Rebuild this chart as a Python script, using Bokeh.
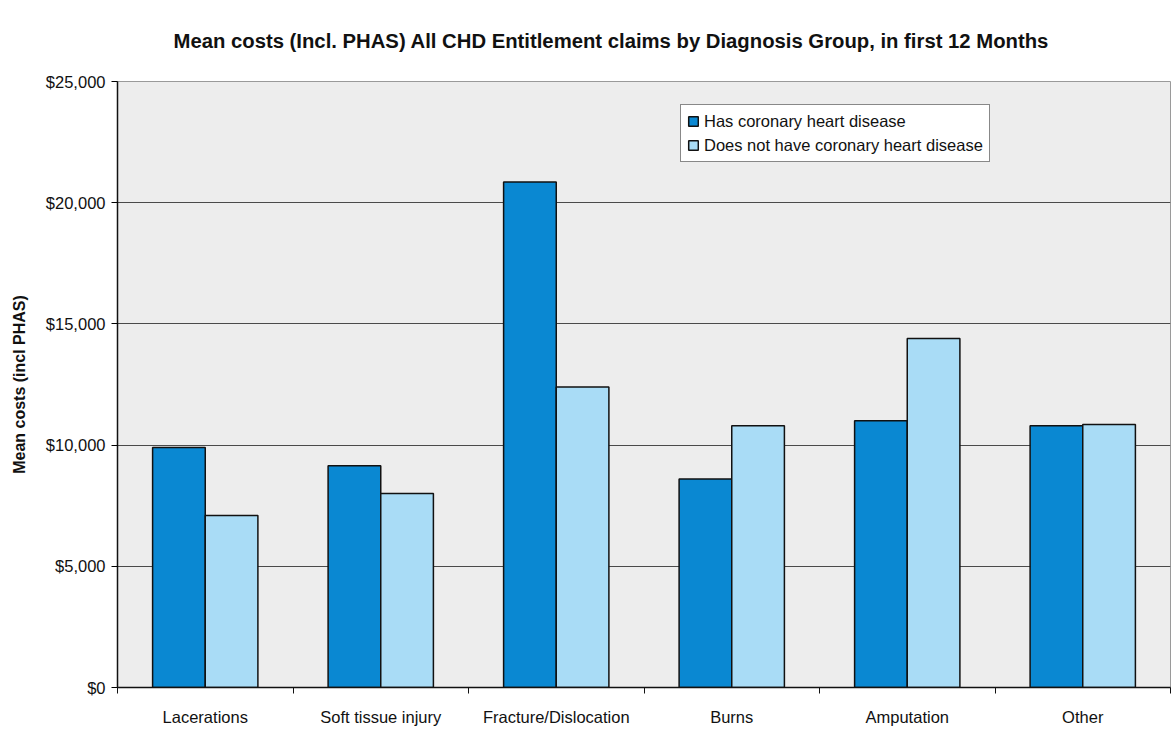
from bokeh.plotting import figure
from bokeh.models import (ColumnDataSource, FixedTicker, NumeralTickFormatter,
                          Legend, LegendItem, Range1d)
from bokeh.embed import file_html
from bokeh.resources import INLINE

categories = ["Lacerations", "Soft tissue injury", "Fracture/Dislocation",
              "Burns", "Amputation", "Other"]
has_chd = [9900, 9150, 20850, 8600, 11000, 10800]
no_chd = [7100, 8000, 12400, 10800, 14400, 10850]
series_names = ["Has coronary heart disease", "Does not have coronary heart disease"]
y_ticks = [0, 5000, 10000, 15000, 20000, 25000]
chart_title = "Mean costs (Incl. PHAS) All CHD Entitlement claims by Diagnosis Group, in first 12 Months"

centers = [i + 0.5 for i in range(len(categories))]
bounds = list(range(len(categories) + 1))

src = ColumnDataSource(dict(
    x1=[c - 0.15 for c in centers],
    x2=[c + 0.15 for c in centers],
    a=has_chd,
    b=no_chd,
))

FONT = "Liberation Sans"
INK = "#111111"

p = figure(width=1175, height=729, output_backend="svg", toolbar_location=None,
           title=chart_title,
           x_range=Range1d(0, len(categories)), y_range=Range1d(0, 25000),
           min_border_left=117, min_border_right=5, min_border_top=81,
           min_border_bottom=42,
           background_fill_color="#ededed", border_fill_color="white",
           outline_line_color="#9a9a9a")

p.title.text_font = FONT
p.title.text_font_size = "20.3px"
p.title.text_font_style = "bold"
p.title.text_color = INK
p.title.align = "left"
p.title.offset = 56
p.title.vertical_align = "top"
p.title.standoff = 56

r1 = p.vbar(x="x1", top="a", width=0.3, source=src, fill_color="#0a88d2",
            line_color=INK, line_width=1.5)
r2 = p.vbar(x="x2", top="b", width=0.3, source=src, fill_color="#a9dcf6",
            line_color=INK, line_width=1.5)

# x axis: labels at category centres, tick marks at boundaries
p.xaxis.ticker = FixedTicker(ticks=centers, minor_ticks=bounds)
p.xaxis.major_label_overrides = {c: n for c, n in zip(centers, categories)}
p.xaxis.major_tick_line_color = None
p.xaxis.minor_tick_out = 6
p.xaxis.minor_tick_in = 0
p.xaxis.minor_tick_line_color = INK
p.xaxis.major_label_text_font = FONT
p.xaxis.major_label_text_font_size = "16.5px"
p.xaxis.major_label_text_color = INK
p.xaxis.major_label_standoff = 14
p.xaxis.axis_line_color = INK
p.xaxis.axis_line_width = 1.5
p.xgrid.grid_line_color = None

p.yaxis.ticker = FixedTicker(ticks=y_ticks, minor_ticks=[])
p.yaxis.formatter = NumeralTickFormatter(format="$0,0")
p.yaxis.major_label_text_font = FONT
p.yaxis.major_label_text_font_size = "16.5px"
p.yaxis.major_label_text_color = INK
p.yaxis.major_label_standoff = 6
p.yaxis.major_tick_out = 6
p.yaxis.major_tick_in = 0
p.yaxis.axis_line_color = INK
p.yaxis.axis_line_width = 1.5
p.yaxis.axis_label = "Mean costs (incl PHAS)"
p.yaxis.axis_label_text_font = FONT
p.yaxis.axis_label_text_font_size = "16px"
p.yaxis.axis_label_text_font_style = "bold"
p.yaxis.axis_label_text_color = INK
p.yaxis.axis_label_standoff = 15
p.ygrid.grid_line_color = "#4a4a4a"
p.ygrid.grid_line_width = 1

legend = Legend(items=[LegendItem(label=series_names[0], renderers=[r1]),
                       LegendItem(label=series_names[1], renderers=[r2])],
                location=(563, 525), border_line_color=INK,
                border_line_width=1.2, background_fill_color="white",
                background_fill_alpha=1.0, label_text_font=FONT,
                label_text_font_size="16.5px", label_text_color=INK,
                glyph_width=12, glyph_height=12,
                label_standoff=5, spacing=4, padding=6, margin=0,
                label_height=20)
p.add_layout(legend, "center")

open("out.html", "w").write(file_html(p, INLINE))
